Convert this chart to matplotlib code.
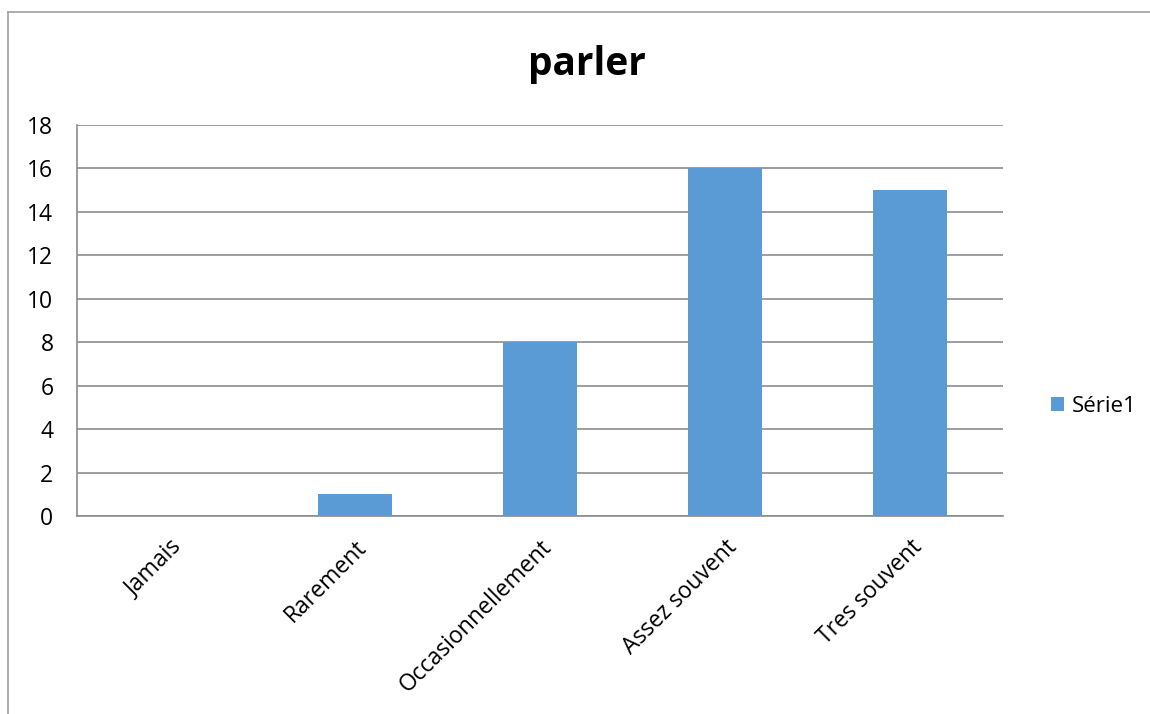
import numpy as np
import matplotlib.pyplot as plt
from matplotlib.lines import Line2D

plt.rcParams['font.family'] = ['Open Sans', 'DejaVu Sans']

# data
categories = ["Jamais", "Rarement", "Occasionnellement", "Assez souvent", "Tres souvent"]
values = [0, 1, 8, 16, 15]
series_name = "Série1"
yticks = [0, 2, 4, 6, 8, 10, 12, 14, 16, 18]

bar_color = "#5B9BD5"
grid_color = "#8C8C8C"

fig = plt.figure(figsize=(11.5, 7.14), dpi=100)
ax = fig.add_axes([77/1150, 1-516/714, (1003-77)/1150, (516-125)/714])

x = np.arange(len(categories))
ax.bar(x, values, width=0.4, color=bar_color, label=series_name, zorder=3)

ax.set_xlim(-0.5, len(categories)-0.5)
ax.set_ylim(0, 18)
ax.set_yticks(yticks)
ax.yaxis.grid(True, color=grid_color, linewidth=1.2, zorder=0)
ax.set_xticks(x)
ax.set_xticklabels(categories, rotation=45, ha='right', va='top',
                   rotation_mode='anchor', fontsize=16.5)
ax.tick_params(axis='y', length=0, pad=17, labelsize=16.5)
ax.tick_params(axis='x', length=0, pad=14)

for side in ['top', 'right']:
    ax.spines[side].set_visible(False)
for side in ['left', 'bottom']:
    ax.spines[side].set_color(grid_color)
    ax.spines[side].set_linewidth(1.2)

fig.text(587/1150, 1-65/714, "parler", ha='center', va='center',
         fontsize=28, fontweight='bold')

ax.legend(loc='center left', bbox_to_anchor=(1.03, 0.28), frameon=False,
          fontsize=16, handlelength=0.6, handleheight=0.6, handletextpad=0.35)

# chart area border (left and top only visible in the crop)
fig.add_artist(Line2D([8/1150, 8/1150], [0, 1-12/714], color='#A0A0A0', lw=1.2,
                      transform=fig.transFigure))
fig.add_artist(Line2D([8/1150, 1], [1-12/714, 1-12/714], color='#A0A0A0', lw=1.2,
                      transform=fig.transFigure))

fig.savefig("out.png", dpi=100)
